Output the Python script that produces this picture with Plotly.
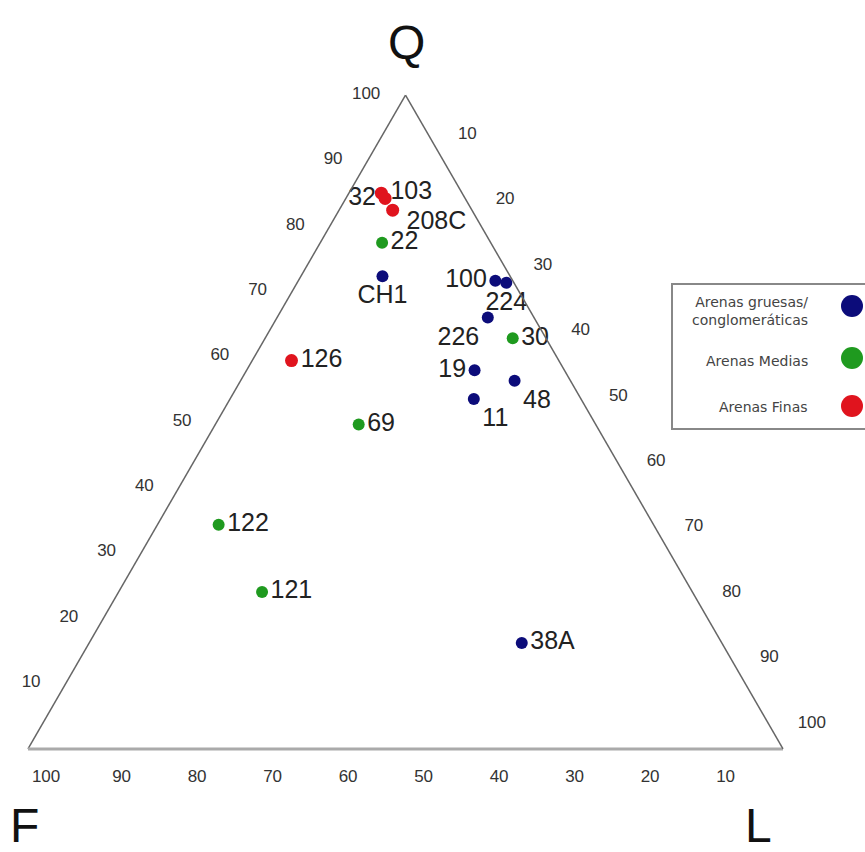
import plotly.graph_objects as go

# Sample names and QFL composition (%)
fine_names = ["103", "32", "208C", "126"]
fine_q = [85.0, 84.2, 82.4, 59.4]
fine_f = [10.7, 10.6, 10.5, 35.4]
fine_l = [4.3, 5.2, 7.1, 5.2]

med_names = ["22", "30", "69", "122", "121"]
med_q = [77.4, 62.8, 49.6, 34.3, 24.0]
med_f = [14.4, 4.4, 31.4, 57.6, 57.0]
med_l = [8.2, 32.8, 19.0, 8.1, 19.0]

coarse_names = ["CH1", "100", "224", "226", "19", "48", "11", "38A"]
coarse_q = [72.3, 71.6, 71.3, 66.0, 57.9, 56.3, 53.5, 16.2]
coarse_f = [16.9, 2.3, 1.0, 6.1, 11.9, 7.4, 14.2, 26.5]
coarse_l = [10.8, 26.1, 27.7, 27.9, 30.2, 36.3, 32.3, 57.3]

tick_values = [10, 20, 30, 40, 50, 60, 70, 80, 90, 100]
tick_text = [str(v) for v in tick_values]
legend_labels = ["Arenas gruesas/<br>conglomeráticas", "Arenas Medias", "Arenas Finas"]

BLUE = "#0c0c7a"
GREEN = "#1f9a1f"
RED = "#e0141e"
FONT = "Liberation Sans, Arial, sans-serif"
LABEL_FONT = dict(family=FONT, size=25, color="#222")

fig = go.Figure()

def add_series(q, f, l, names, color, positions, size=12):
    fig.add_trace(go.Scatterternary(
        a=q, b=f, c=l, mode="markers+text", text=names,
        textposition=positions,
        textfont=LABEL_FONT,
        marker=dict(color=color, size=size, line=dict(width=0)),
        hovertext=names, hoverinfo="text", showlegend=False, cliponaxis=False,
    ))

add_series(coarse_q, coarse_f, coarse_l, coarse_names, BLUE,
           ["bottom center", "middle left", "bottom center", "bottom left",
            "middle left", "bottom right", "bottom right", "middle right"])
add_series(med_q, med_f, med_l, med_names, GREEN,
           ["middle right", "middle right", "middle right", "middle right", "middle right"])

# Fine sands: the 208C label sits a little lower, drawn as its own text trace
fine_text = [n if n != "208C" else "" for n in fine_names]
add_series(fine_q, fine_f, fine_l, fine_text, RED,
           ["middle right", "middle left", "middle right", "middle right"], size=13)
i208 = fine_names.index("208C")
fig.add_trace(go.Scatterternary(
    a=[fine_q[i208]], b=[fine_f[i208]], c=[fine_l[i208]], mode="text",
    text=["\u00a0\u00a0" + fine_names[i208]], textposition="bottom right",
    textfont=LABEL_FONT, hoverinfo="skip", showlegend=False, cliponaxis=False,
))

# Tick labels in the reference sit along the grid direction, i.e. shifted
# slightly along the b and c edges relative to a perpendicular tick.
b_vals = [v - 1.6 for v in tick_values]
c_vals = [v - 0.4 for v in tick_values]

tickfont = dict(family=FONT, size=17, color="#333")
common = dict(ticks="outside", tickcolor="rgba(0,0,0,0)", tickfont=tickfont,
              showgrid=False, showline=True, min=0, title=dict(text=""))

fig.update_layout(
    width=865, height=852,
    margin=dict(l=28, r=82, t=95, b=103),
    paper_bgcolor="white",
    showlegend=False,
    ternary=dict(
        sum=100,
        bgcolor="white",
        aaxis=dict(**common, tickvals=tick_values, ticktext=tick_text, ticklen=22,
                   linecolor="#666", linewidth=1.5),
        baxis=dict(**common, tickvals=b_vals, ticktext=tick_text, ticklen=12,
                   linecolor="#aaa", linewidth=3),
        caxis=dict(**common, tickvals=c_vals, ticktext=tick_text, ticklen=26,
                   linecolor="#666", linewidth=1.5),
    ),
)

W, H = 755.0, 654.0
def px(x):
    return (x - 28) / W
def py(y):
    return (749 - y) / H

# Vertex titles
for txt, x, y in [("Q", 406, 43), ("F", 24, 825), ("L", 758, 825)]:
    fig.add_annotation(text=txt, x=px(x), y=py(y), xref="paper", yref="paper",
                       showarrow=False, font=dict(family=FONT, size=48, color="#111"),
                       xanchor="center", yanchor="middle")

# Custom legend box
fig.add_shape(type="rect", xref="paper", yref="paper",
              x0=px(672), x1=px(880), y0=py(429), y1=py(284),
              line=dict(color="#888", width=2), fillcolor="white")
legend_colors = [BLUE, GREEN, RED]
legend_text_y = [311, 361, 407]
legend_dot_y = [306, 358, 406]
for lab, col, ty, dy in zip(legend_labels, legend_colors, legend_text_y, legend_dot_y):
    fig.add_annotation(text=lab, x=px(810), y=py(ty), xref="paper", yref="paper",
                       showarrow=False, align="right", xanchor="right", yanchor="middle",
                       font=dict(family="DejaVu Sans, sans-serif", size=14, color="#444"))
    fig.add_shape(type="circle", xref="paper", yref="paper",
                  x0=px(841), x1=px(863), y0=py(dy + 11), y1=py(dy - 11),
                  line=dict(width=0), fillcolor=col)

fig.write_html("out.html")
